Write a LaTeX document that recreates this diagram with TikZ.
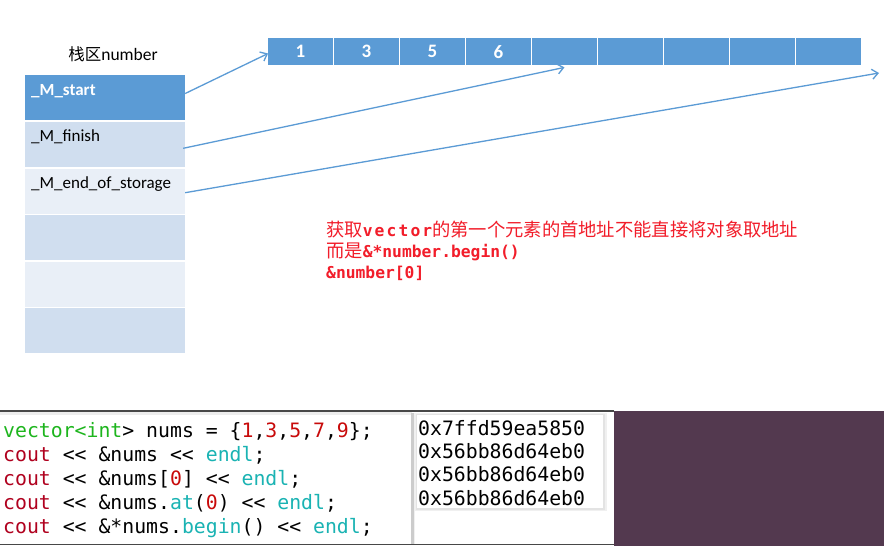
\documentclass[tikz,border=0pt]{standalone}
\usepackage{fontspec}
\setmainfont{Carlito}
\newfontfamily\zhfont{Noto Sans CJK SC}
\newfontfamily\codefont{DejaVu Sans Mono}
\usetikzlibrary{arrows.meta}
\definecolor{accent}{HTML}{5B9BD5}
\definecolor{rowA}{HTML}{D0DEEF}
\definecolor{rowB}{HTML}{E9EFF7}
\definecolor{notered}{HTML}{F21D2A}
\definecolor{cgreen}{HTML}{1DB51D}
\definecolor{cnum}{HTML}{C80A0A}
\definecolor{ccout}{HTML}{B0001E}
\definecolor{cteal}{HTML}{1AB3B3}
\definecolor{termbg}{HTML}{53394F}
\newcommand{\kwg}[1]{\textcolor{cgreen}{#1}}
\newcommand{\kwn}[1]{\textcolor{cnum}{#1}}
\newcommand{\kwc}[1]{\textcolor{ccout}{#1}}
\newcommand{\kwt}[1]{\textcolor{cteal}{#1}}
\newcommand{\shl}{<\kern0pt<}
\newcommand{\zhs}[1]{{\fontsize{18.3}{21}\zhfont #1}}
\newcommand{\mb}[1]{{\fontsize{16.3}{21}\codefont\bfseries #1}}
\begin{document}
\begin{tikzpicture}[x=1pt,y=-1pt,
  row/.style={rectangle, draw=none, inner sep=0pt, minimum width=160pt, minimum height=45pt},
  cell/.style={rectangle, draw=none, fill=accent, inner sep=0pt, minimum width=64.5pt, minimum height=27pt,
    text=white, font=\fontsize{19}{19}\selectfont\bfseries},
  rowtext/.style={anchor=base west, inner sep=0pt, font=\fontsize{17}{17}\selectfont},
  conn/.style={draw=accent, line width=1.3pt, -{Straight Barb[length=6pt,width=10pt]}},
  codeline/.style={anchor=base west, inner sep=0pt, font=\fontsize{19.8}{24}\codefont},
  note/.style={anchor=base west, inner sep=0pt, text=notered}
]
\useasboundingbox (0,0) rectangle (884,546);
\fill[white] (0,0) rectangle (884,546);

% title
\node[anchor=base, inner sep=0pt] (title) at (113,60) {{\fontsize{16.5}{17}\zhfont 栈区}{\fontsize{17.5}{18}\selectfont number}};

% stack rows
\node[row, fill=accent] (s1) at (105,97.5) {};
\node[row, fill=rowA] (s2) at (105,144.5) {};
\node[row, fill=rowB] (s3) at (105,191.2) {};
\node[row, fill=rowA] (s4) at (105,237.8) {};
\node[row, fill=rowB] (s5) at (105,284.3) {};
\node[row, fill=rowA] (s6) at (105,330.8) {};

\node[rowtext, text=white, font=\fontsize{17}{17}\selectfont\bfseries] (t1) at (31,95) {\_M\_start};
\node[rowtext] (t2) at (31,141.5) {\_M\_finish};
\node[rowtext] (t3) at (31,188) {\_M\_end\_of\_storage};

% array cells
\node[cell] (c1) at (300.5,51.7) {1};
\node[cell] (c2) at (366.5,51.7) {3};
\node[cell] (c3) at (432.5,51.7) {5};
\node[cell] (c4) at (498.5,51.7) {6};
\node[cell] (c5) at (564.5,51.7) {};
\node[cell] (c6) at (630.5,51.7) {};
\node[cell] (c7) at (696.5,51.7) {};
\node[cell] (c8) at (762.5,51.7) {};
\node[cell] (c9) at (828.5,51.7) {};

\coordinate (tip3) at (879,73);

\draw[conn] ([yshift=4pt]s1.east) -- ([yshift=-1.8pt]c1.west);
\draw[conn] ([yshift=-3.8pt,xshift=-2pt]s2.east) -- ([yshift=-2pt]c5.south);
\draw[conn] ([yshift=-1.5pt]s3.east) -- (tip3);

% red note
\node[note] (n1) at (326,236) {\zhs{获取}\mb{\addfontfeature{LetterSpace=13}vector}\zhs{的第一个元素的首地址不能直接将对象取地址}};
\node[note] (n2) at (326,257.5) {\zhs{而是}\mb{\&*number.begin()}};
\node[note] (n3) at (326,278.5) {\mb{\&number[0]}};

% bottom screenshot panel
\draw[line width=1.3pt, black!72] (0,411) -- (614,411);
\draw[line width=1.3pt, black!72] (0,544.5) -- (614,544.5);
\fill[black!7] (0,412) rectangle (412,415);
\fill[black!20] (410.5,413) rectangle (413.5,543.5);
\fill[black!6] (413.5,413) rectangle (415,543.5);

% address box with shadow
\fill[black!6] (414,413) rectangle (607,511);
\fill[black!11] (415.5,414) rectangle (605,509.5);
\fill[white] (417,415) rectangle (603,507.5);

\node[codeline] (k1) at (3,437) {\kwg{vector<int}> nums = \{\kwn{1},\kwn{3},\kwn{5},\kwn{7},\kwn{9}\};};
\node[codeline] (k2) at (3,461) {\kwc{cout} \shl{} \&nums \shl{} \kwt{endl};};
\node[codeline] (k3) at (3,485) {\kwc{cout} \shl{} \&nums[\kwn{0}] \shl{} \kwt{endl};};
\node[codeline] (k4) at (3,509) {\kwc{cout} \shl{} \&nums.\kwt{at}(\kwn{0}) \shl{} \kwt{endl};};
\node[codeline] (k5) at (3,533) {\kwc{cout} \shl{} \&*nums.\kwt{begin}() \shl{} \kwt{endl};};

\node[codeline] (a1) at (418,435) {0x7ffd59ea5850};
\node[codeline] (a2) at (418,458.3) {0x56bb86d64eb0};
\node[codeline] (a3) at (418,481.7) {0x56bb86d64eb0};
\node[codeline] (a4) at (418,505) {0x56bb86d64eb0};

\fill[termbg] (614,411) rectangle (884,546);
\end{tikzpicture}
\end{document}
